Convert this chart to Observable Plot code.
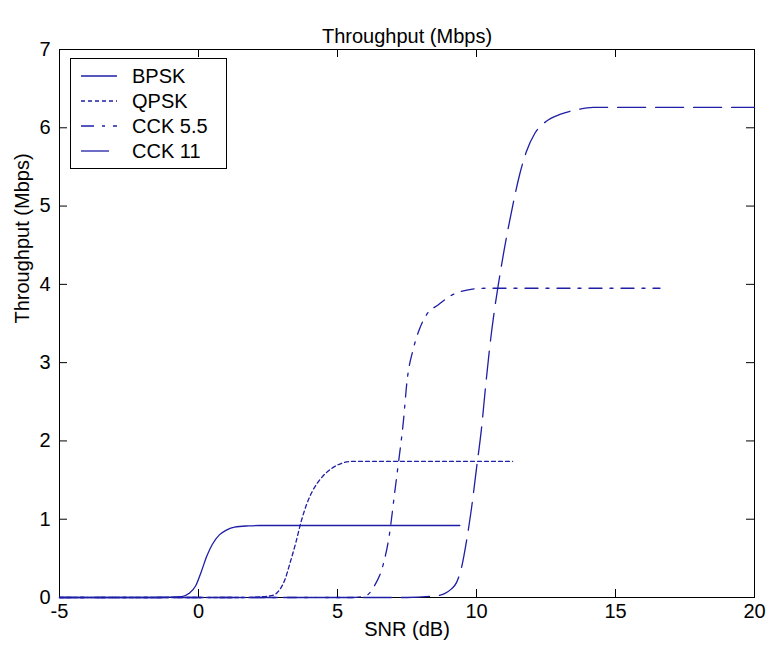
<!DOCTYPE html>
<html>
<head>
<meta charset="utf-8">
<script src="https://cdn.jsdelivr.net/npm/d3@7"></script>
<script src="https://cdn.jsdelivr.net/npm/@observablehq/plot@0.6"></script>
<style>
  html, body { margin: 0; padding: 0; background: #fff; }
  #wrap { position: relative; width: 768px; height: 655px; font-family: "Liberation Sans", Arial, sans-serif; }
  #legend { position: absolute; left: 70px; top: 58px; width: 155px; height: 109px; border: 1px solid #000; background: #fff; }
</style>
</head>
<body>
<div id="wrap"></div>
<script>
// ---- data ----
const seriesNames = ["BPSK", "QPSK", "CCK 5.5", "CCK 11"];

const bpskSNR = [-5, -1.5, -0.6, -0.35, -0.1, 0.1, 0.3, 0.5, 0.75, 1.0, 1.3, 1.8, 2.2, 9.4];
const bpskThr = [0, 0, 0.01, 0.05, 0.15, 0.33, 0.53, 0.68, 0.8, 0.86, 0.9, 0.915, 0.92, 0.92];

const qpskSNR = [-5, 1.7, 2.3, 2.7, 2.9, 3.1, 3.3, 3.5, 3.7, 3.9, 4.1, 4.4, 4.8, 5.2, 5.6, 11.3];
const qpskThr = [0, 0, 0.01, 0.03, 0.09, 0.22, 0.45, 0.7, 0.98, 1.2, 1.36, 1.52, 1.65, 1.72, 1.74, 1.74];

const cck55SNR = [-5, 5.5, 6.0, 6.33, 6.65, 6.87, 7.05, 7.2, 7.37, 7.5, 7.73, 7.95, 8.2, 8.63, 9.1, 9.7, 10.3, 16.6];
const cck55Thr = [0, 0, 0.02, 0.15, 0.43, 0.81, 1.32, 1.74, 2.25, 2.76, 3.18, 3.43, 3.61, 3.74, 3.86, 3.93, 3.95, 3.95];

const cck11SNR = [-5, 7.5, 8.5, 8.85, 9.1, 9.28, 9.46, 9.64, 9.82, 10.0, 10.18, 10.32, 10.47, 10.65, 10.8, 11.0, 11.3, 11.55, 11.8, 12.1, 12.5, 13.0, 13.6, 14.2, 20];
const cck11Thr = [0, 0, 0.02, 0.05, 0.11, 0.19, 0.38, 0.72, 1.14, 1.65, 2.16, 2.67, 3.18, 3.68, 4.03, 4.45, 5.0, 5.4, 5.7, 5.93, 6.08, 6.17, 6.23, 6.26, 6.26];

const xTicks = [-5, 0, 5, 10, 15, 20];
const yTicks = [0, 1, 2, 3, 4, 5, 6, 7];

const titleText = "Throughput (Mbps)";
const xLabel = "SNR (dB)";
const yLabel = "Throughput (Mbps)";

// ---- styles ----
const lineColor = "#1e1ea6";
const dashes = ["none", "4,3", "13,8,3,8", "28,10"];

const toRows = (name, xs, ys) => xs.map((x, i) => ({series: name, snr: x, thr: ys[i]}));
const allSeries = [
  toRows(seriesNames[0], bpskSNR, bpskThr),
  toRows(seriesNames[1], qpskSNR, qpskThr),
  toRows(seriesNames[2], cck55SNR, cck55Thr),
  toRows(seriesNames[3], cck11SNR, cck11Thr)
];

const fs = 20;
const font = "Liberation Sans, Arial, sans-serif";

const chart = Plot.plot({
  width: 768,
  height: 655,
  marginLeft: 59,
  marginRight: 14,
  marginTop: 49,
  marginBottom: 58,
  style: {fontFamily: font, fontSize: fs + "px", background: "#fff", color: "#000"},
  x: {domain: [-5, 20], label: null},
  y: {domain: [0, 7], label: null},
  marks: [
    Plot.axisX(xTicks, {tickSize: 0, tickPadding: 6, fontSize: fs, label: null, tickFormat: d => String(d)}),
    Plot.axisY(yTicks, {tickSize: 0, tickPadding: 9, fontSize: fs, label: null, tickFormat: d => String(d)}),
    Plot.tickX(xTicks.slice(1, -1), {x: d => d, insetTop: 540, stroke: "#000"}),
    Plot.tickX(xTicks.slice(1, -1), {x: d => d, insetBottom: 540, stroke: "#000"}),
    Plot.tickY(yTicks.slice(1, -1), {y: d => d, insetRight: 687, stroke: "#000"}),
    Plot.tickY(yTicks.slice(1, -1), {y: d => d, insetLeft: 687, stroke: "#000"}),
    Plot.frame({stroke: "#000"}),
    ...allSeries.map((rows, i) => Plot.line(rows, {
      x: "snr", y: "thr", stroke: lineColor, strokeWidth: 1.3, curve: "monotone-x",
      strokeDasharray: dashes[i] === "none" ? null : dashes[i]
    })),
    Plot.text([titleText], {frameAnchor: "top", dy: -21, fontSize: fs, fill: "#000"}),
    Plot.text([xLabel], {frameAnchor: "bottom", dy: 38, fontSize: fs, fill: "#000"}),
    Plot.text([yLabel], {frameAnchor: "left", dx: -37, rotate: -90, fontSize: fs, fill: "#000"})
  ]
});

const wrap = document.getElementById("wrap");
wrap.appendChild(chart);

// ---- legend (MATLAB-style box inside the axes) ----
const legend = document.createElement("div");
legend.id = "legend";
const ns = "http://www.w3.org/2000/svg";
const lsvg = document.createElementNS(ns, "svg");
lsvg.setAttribute("width", 155);
lsvg.setAttribute("height", 109);
seriesNames.forEach((name, i) => {
  const y = 17 + i * 25;
  const ln = document.createElementNS(ns, "line");
  ln.setAttribute("x1", 10);
  ln.setAttribute("x2", 46);
  ln.setAttribute("y1", y);
  ln.setAttribute("y2", y);
  ln.setAttribute("stroke", lineColor);
  ln.setAttribute("stroke-width", 1.3);
  if (dashes[i] !== "none") ln.setAttribute("stroke-dasharray", dashes[i]);
  lsvg.appendChild(ln);
  const t = document.createElementNS(ns, "text");
  t.setAttribute("x", 61);
  t.setAttribute("y", y);
  t.setAttribute("dy", "0.35em");
  t.setAttribute("font-size", fs);
  t.setAttribute("font-family", font);
  t.setAttribute("fill", "#000");
  t.textContent = name;
  lsvg.appendChild(t);
});
legend.appendChild(lsvg);
wrap.appendChild(legend);
</script>
</body>
</html>
